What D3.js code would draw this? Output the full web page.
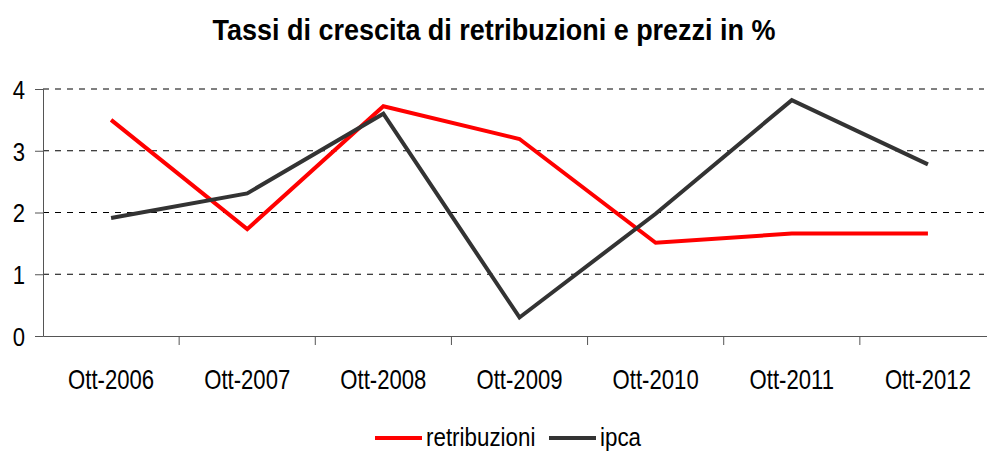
<!DOCTYPE html>
<html lang="it">
<head>
    <meta charset="UTF-8">
    <title>Tassi di crescita di retribuzioni e prezzi in %</title>
    <script src="https://d3js.org/d3.v7.min.js"></script>
    <style>
        body {
            margin: 0;
            background: #ffffff;
            font-family: "Liberation Sans Narrow", "Arial Narrow", "Liberation Sans", Arial, sans-serif;
        }
        .tick text {
            font-size: 27px;
            fill: #000;
        }
    </style>
</head>
<body>
    <div id="chart"></div>

    <script>
        let categories = ["Ott-2006", "Ott-2007", "Ott-2008", "Ott-2009", "Ott-2010", "Ott-2011", "Ott-2012"];
        let retribuzioni = [3.50, 1.73, 3.72, 3.19, 1.51, 1.66, 1.66];
        let ipca = [1.91, 2.31, 3.60, 0.30, 1.98, 3.82, 2.78];
        let yTicks = [0, 1, 2, 3, 4];

        let series = [
            { name: "retribuzioni", values: retribuzioni, color: "#ff0000" },
            { name: "ipca", values: ipca, color: "#333333" }
        ];

        let width = 987, height = 452;
        let margin = { top: 89, right: -9, bottom: 116, left: 43 };
        let innerW = width - margin.left - margin.right;
        let innerH = height - margin.top - margin.bottom;

        // squeeze text horizontally to mimic a narrow font
        function narrow(sel, k) {
            sel.each(function() {
                let w = this.getComputedTextLength();
                d3.select(this)
                    .attr("textLength", w * k)
                    .attr("lengthAdjust", "spacingAndGlyphs");
            });
        }

        let svg = d3.select("#chart").append("svg")
            .attr("width", width)
            .attr("height", height);

        svg.append("text")
            .attr("x", 494)
            .attr("y", 40)
            .attr("text-anchor", "middle")
            .style("font-size", "29px")
            .style("font-weight", "bold")
            .text("Tassi di crescita di retribuzioni e prezzi in %")
            .attr("textLength", 563)
            .attr("lengthAdjust", "spacingAndGlyphs");

        let g = svg.append("g")
            .attr("transform", "translate(" + margin.left + "," + margin.top + ")");

        let x = d3.scaleBand()
            .domain(categories)
            .range([0, innerW]);

        let y = d3.scaleLinear()
            .domain([0, 4])
            .range([innerH, 0]);

        // dashed grid
        g.selectAll(".grid")
            .data(yTicks.filter(d => d > 0))
            .enter()
            .append("line")
            .attr("x1", 0)
            .attr("x2", innerW - 12)
            .attr("y1", d => y(d))
            .attr("y2", d => y(d))
            .attr("stroke", "#000")
            .attr("stroke-width", 1)
            .attr("stroke-dasharray", "6,6");

        // y axis
        let yAxis = g.append("g")
            .call(d3.axisLeft(y).tickValues(yTicks).tickFormat(d3.format("d")).tickSize(8).tickPadding(10));
        yAxis.select(".domain").attr("stroke", "#555");
        yAxis.selectAll(".tick line").attr("stroke", "#555");
        yAxis.selectAll(".tick text").style("font-size", "26px").attr("dy", "0.36em");
        narrow(yAxis.selectAll(".tick text"), 0.85);

        // x axis with ticks at band boundaries
        let xAxis = g.append("g")
            .attr("transform", "translate(0," + innerH + ")")
            .call(d3.axisBottom(x).tickSize(0).tickPadding(34));
        xAxis.select(".domain").attr("stroke", "#555");
        xAxis.selectAll(".tick text").attr("transform", "scale(0.82,1)");

        g.selectAll(".xtick")
            .data(categories.slice(1))
            .enter()
            .append("line")
            .attr("x1", d => x(d))
            .attr("x2", d => x(d))
            .attr("y1", innerH)
            .attr("y2", innerH + 9)
            .attr("stroke", "#555");

        let line = d3.line()
            .x((d, i) => x(categories[i]) + x.bandwidth() / 2)
            .y(d => y(d));

        series.forEach(s => {
            g.append("path")
                .datum(s.values)
                .attr("d", line)
                .attr("fill", "none")
                .attr("stroke", s.color)
                .attr("stroke-width", 4);
        });

        // legend
        let legend = svg.append("g").attr("transform", "translate(375,438)");
        let legendX = [0, 174];
        series.forEach((s, i) => {
            let item = legend.append("g").attr("transform", "translate(" + legendX[i] + ",0)");
            item.append("line")
                .attr("x1", 0).attr("x2", 47)
                .attr("y1", 0).attr("y2", 0)
                .attr("stroke", s.color)
                .attr("stroke-width", 4);
            let t = item.append("text")
                .attr("x", 51)
                .attr("y", 8)
                .style("font-size", "26px")
                .text(s.name);
            narrow(t, 0.86);
        });
    </script>
</body>
</html>
